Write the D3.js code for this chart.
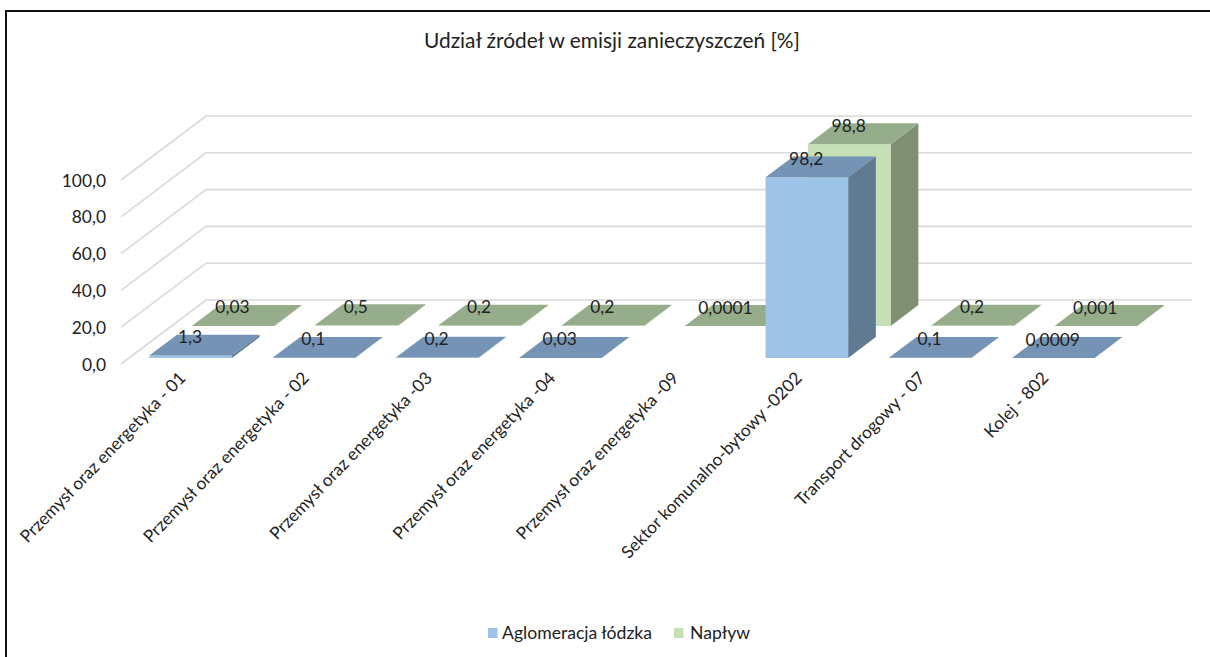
<!DOCTYPE html>
<html><head><meta charset="utf-8">
<script src="https://cdn.jsdelivr.net/npm/d3@7"></script>
<style>html,body{margin:0;padding:0;background:#fff}svg{display:block}text{font-family:Lato,"Open Sans",sans-serif;fill:#222}</style>
</head><body><svg id="c" width="1210" height="657"></svg>
<script>
const title = "Udział źródeł w emisji zanieczyszczeń [%]";
const categories = ["Przemysł oraz energetyka - 01","Przemysł oraz energetyka - 02","Przemysł oraz energetyka -03","Przemysł oraz energetyka -04","Przemysł oraz energetyka -09","Sektor komunalno-bytowy -0202","Transport drogowy - 07","Kolej - 802"];
const seriesNames = ["Aglomeracja łódzka","Napływ"];
const aglomeracja = [1.3,0.1,0.2,0.03,null,98.2,0.1,0.0009];
const naplyw = [0.03,0.5,0.2,0.2,0.0001,98.8,0.2,0.001];
const aglomeracjaLabels = ["1,3","0,1","0,2","0,03",null,"98,2","0,1","0,0009"];
const naplywLabels = ["0,03","0,5","0,2","0,2","0,0001","98,8","0,2","0,001"];
const yTicks = [0,20,40,60,80,100];
const colors = [{front:"#9dc3e6",top:"#7593b5",side:"#607a94"},{front:"#c5e0b4",top:"#96ad8c",side:"#7f8f72"}];
const zBands = [[0.094,0.42],[0.594,0.92]];

const svg = d3.select("#c");
const x = d3.scaleBand().domain(categories).range([121,1107]).paddingInner(0.33).paddingOuter(0.165);
const y = d3.scaleLinear().domain([0,100]).range([364,180]);
const zx = d3.scaleLinear().domain([0,1]).range([0,85]);
const zy = d3.scaleLinear().domain([0,1]).range([0,-64]);
const pt = (px,v,z)=>[px+zx(z), y(v)+zy(z)];
const poly = pts=>pts.map(p=>p.join(",")).join(" ");

svg.append("rect").attr("x",6).attr("y",11).attr("width",1300).attr("height",800).attr("fill","none").attr("stroke","#111").attr("stroke-width",2);

svg.append("text").attr("x",612).attr("y",48).attr("text-anchor","middle").attr("font-size",20.9).text(title);

const grid = svg.append("g").attr("fill","none").attr("stroke","#d9d9d9").attr("stroke-width",1.6);
yTicks.forEach(t=>{
  const a=pt(121,t,0), b=pt(121,t,1), c=pt(1107,t,1);
  grid.append("polyline").attr("points",poly([a,b,c]));
});
svg.append("g").selectAll("text").data(yTicks).join("text")
  .attr("x",106).attr("y",d=>y(d)+6.5).attr("text-anchor","end").attr("font-size",17.4)
  .text(d=>d3.format(".1f")(d).replace(".",","));

// series drawn back to front
[[naplyw,naplywLabels,1],[aglomeracja,aglomeracjaLabels,0]].forEach(([vals,labs,s])=>{
  const [z0,z1]=zBands[s], col=colors[s], g=svg.append("g");
  categories.forEach((cat,i)=>{
    const v=vals[i]; if(v===null) return;
    const l=x(cat), r=l+x.bandwidth();
    g.append("polygon").attr("fill",col.side).attr("points",poly([pt(r,0,z0),pt(r,0,z1),pt(r,v,z1),pt(r,v,z0)]));
    g.append("polygon").attr("fill",col.front).attr("points",poly([pt(l,0,z0),pt(r,0,z0),pt(r,v,z0),pt(l,v,z0)]));
    g.append("polygon").attr("fill",col.top).attr("points",poly([pt(l,v,z0),pt(r,v,z0),pt(r,v,z1),pt(l,v,z1)]));
  });
});
[[naplyw,naplywLabels,1],[aglomeracja,aglomeracjaLabels,0]].forEach(([vals,labs,s])=>{
  const [z0,z1]=zBands[s];
  categories.forEach((cat,i)=>{
    if(vals[i]===null) return;
    const [px,py]=pt(x(cat)+x.bandwidth()/2,vals[i],(z0+z1)/2);
    svg.append("text").attr("x",px-14.5).attr("y",py-2).attr("text-anchor","middle").attr("font-size",17.4).text(labs[i]);
  });
});

svg.append("g").selectAll("text").data(categories).join("text")
  .attr("text-anchor","end").attr("font-size",17.3)
  .attr("transform",d=>`translate(${x(d)+x.bandwidth()/2+4},${379}) rotate(-46)`)
  .text(d=>d);

const leg=svg.append("g");
[[488,502],[674,690]].forEach(([sx,tx],i)=>{
  leg.append("rect").attr("x",sx).attr("y",628).attr("width",9.5).attr("height",10).attr("fill",colors[i].front);
  leg.append("text").attr("x",tx).attr("y",639).attr("font-size",17.6).text(seriesNames[i]);
});
</script></body></html>
